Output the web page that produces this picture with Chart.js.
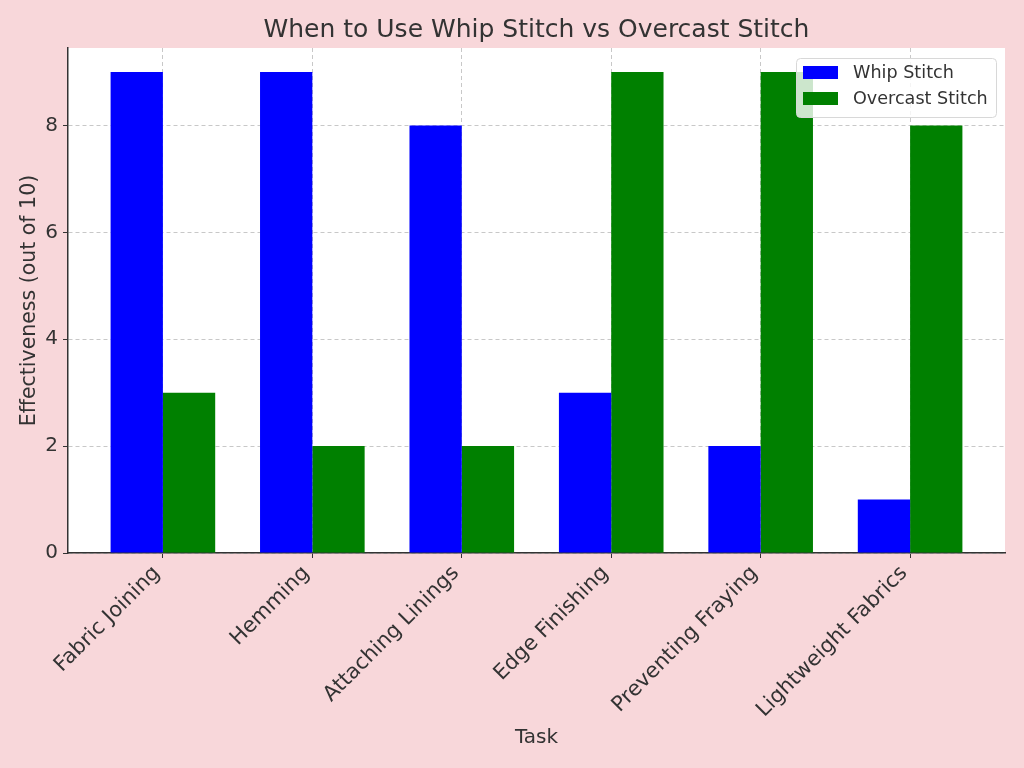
<!DOCTYPE html>
<html>
<head>
<meta charset="utf-8">
<script src="https://cdn.jsdelivr.net/npm/chart.js@4"></script>
<style>
  html, body { margin: 0; padding: 0; background: #f8d7da; }
  #wrap { width: 1024px; height: 768px; }
</style>
</head>
<body>
<div id="wrap"><canvas id="chart" width="1024" height="768"></canvas></div>
<script>
// Datos del gráfico
const chartTitle = 'When to Use Whip Stitch vs Overcast Stitch';
const tasks = ['Fabric Joining', 'Hemming', 'Attaching Linings', 'Edge Finishing', 'Preventing Fraying', 'Lightweight Fabrics'];
const whipStitch = [9, 9, 8, 3, 2, 1];
const overcastStitch = [3, 2, 2, 9, 9, 8];
const yTicks = [0, 2, 4, 6, 8];
const yMax = 9.45;

const textColor = '#333333';
const gridColor = '#c8c8c8';
const font = 'DejaVu Sans';

// Fondo rosa y área blanca
const backgroundPlugin = {
  id: 'background',
  beforeDraw(chart) {
    const { ctx, chartArea } = chart;
    ctx.save();
    ctx.fillStyle = '#f8d7da';
    ctx.fillRect(0, 0, chart.width, chart.height);
    ctx.fillStyle = '#ffffff';
    ctx.fillRect(chartArea.left, chartArea.top, chartArea.right - chartArea.left, chartArea.bottom - chartArea.top);
    ctx.restore();
  }
};

// Título centrado sobre el área de trazado
const centeredTitle = {
  id: 'centeredTitle',
  afterDraw(chart) {
    const { ctx, chartArea } = chart;
    ctx.save();
    ctx.font = '25px "' + font + '"';
    ctx.fillStyle = textColor;
    ctx.textAlign = 'center';
    ctx.textBaseline = 'middle';
    ctx.fillText(chartTitle, (chartArea.left + chartArea.right) / 2, 30);
    ctx.restore();
  }
};

// Leyenda dentro del área del gráfico (arriba a la derecha)
const insideLegend = {
  id: 'insideLegend',
  afterDraw(chart) {
    const { ctx, chartArea } = chart;
    const boxW = 200, boxH = 59;
    const x = chartArea.right - 9 - boxW;
    const y = chartArea.top + 10;
    ctx.save();
    ctx.fillStyle = 'rgba(255,255,255,0.8)';
    ctx.strokeStyle = '#d8d8d8';
    ctx.lineWidth = 1;
    ctx.beginPath();
    ctx.roundRect(x + 0.5, y + 0.5, boxW, boxH, 4);
    ctx.fill();
    ctx.stroke();
    ctx.font = '17.6px "' + font + '"';
    ctx.textBaseline = 'middle';
    chart.data.datasets.forEach((ds, i) => {
      const rowY = y + 15 + i * 26;
      ctx.fillStyle = ds.backgroundColor;
      ctx.fillRect(x + 7, rowY - 7, 35, 13);
      ctx.fillStyle = textColor;
      ctx.fillText(ds.label, x + 57, rowY);
    });
    ctx.restore();
  }
};

const ctx = document.getElementById('chart').getContext('2d');
new Chart(ctx, {
  type: 'bar',
  data: {
    datasets: [
      {
        label: 'Whip Stitch',
        data: whipStitch.map((v, i) => ({ x: i, y: v })),
        backgroundColor: '#0000ff',
        categoryPercentage: 0.7,
        barPercentage: 1.0
      },
      {
        label: 'Overcast Stitch',
        data: overcastStitch.map((v, i) => ({ x: i, y: v })),
        backgroundColor: '#008000',
        categoryPercentage: 0.7,
        barPercentage: 1.0
      }
    ]
  },
  options: {
    responsive: false,
    animation: false,
    devicePixelRatio: 1,
    layout: { padding: { left: 13, right: 19, top: 48, bottom: 14 } },
    plugins: {
      legend: { display: false },
      tooltip: { enabled: false },
      title: { display: false }
    },
    scales: {
      x: {
        type: 'linear',
        min: -0.635,
        max: 5.635,
        offset: false,
        afterBuildTicks: scale => { scale.ticks = tasks.map((_, i) => ({ value: i })); },
        afterFit: scale => { scale.height = 201; },
        ticks: {
          callback: v => tasks[v],
          color: textColor,
          font: { family: font, size: 21 },
          minRotation: 45,
          maxRotation: 45,
          padding: 3,
          labelOffset: -6
        },
        grid: {
          offset: false,
          color: gridColor,
          tickColor: textColor,
          tickLength: 5,
          drawTicks: true
        },
        border: { display: true, color: '#333333', width: 1.5, dash: [4, 3] },
        title: {
          display: true,
          text: 'Task',
          color: textColor,
          font: { family: font, size: 20 },
          padding: { top: 4, bottom: 4 }
        }
      },
      y: {
        min: 0,
        max: yMax,
        afterBuildTicks: scale => { scale.ticks = yTicks.map(v => ({ value: v })); },
        afterFit: scale => { scale.width = 55; },
        ticks: {
          color: textColor,
          font: { family: font, size: 20 },
          padding: 5
        },
        grid: {
          color: gridColor,
          tickColor: textColor,
          tickLength: 5
        },
        border: { display: true, color: '#333333', width: 1.5, dash: [4, 3] },
        title: {
          display: true,
          text: 'Effectiveness (out of 10)',
          color: textColor,
          font: { family: font, size: 20.5 },
          padding: { top: 4, bottom: 4 }
        }
      }
    }
  },
  plugins: [backgroundPlugin, centeredTitle, insideLegend]
});
</script>
</body>
</html>
